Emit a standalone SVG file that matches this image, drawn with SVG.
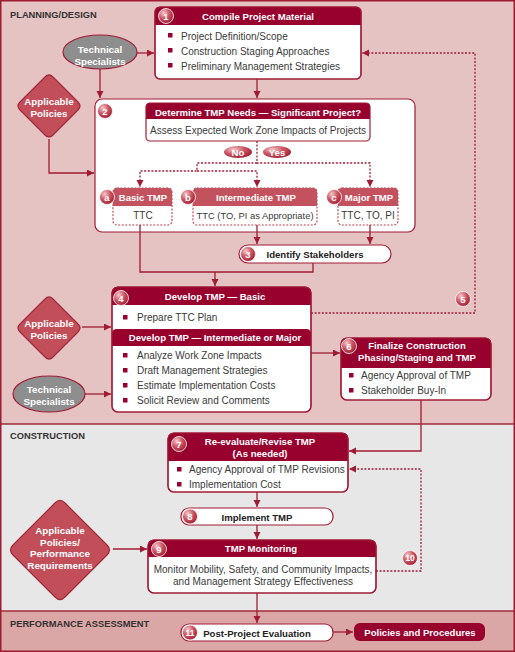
<svg xmlns="http://www.w3.org/2000/svg" width="515" height="652" viewBox="0 0 515 652">
<defs>
<radialGradient id="cg" cx="0.35" cy="0.3" r="0.75"><stop offset="0" stop-color="#f5c8cb"/><stop offset="0.5" stop-color="#cc5662"/><stop offset="1" stop-color="#a01c34"/></radialGradient>
<marker id="ar" markerUnits="userSpaceOnUse" markerWidth="8" markerHeight="8" refX="7" refY="3.5" orient="auto"><path d="M0,0 L7,3.5 L0,7 Z" fill="#a01c34"/></marker>
<style>
.b{font-family:"Liberation Sans",Arial,sans-serif;font-size:10px;fill:#3a3a3a}
.bc{font-family:"Liberation Sans",Arial,sans-serif;font-size:10px;fill:#3a3a3a;text-anchor:middle}
.h{font-family:"Liberation Sans",Arial,sans-serif;font-weight:bold;font-size:9.6px;fill:#fff;text-anchor:middle}
.hd{font-family:"Liberation Sans",Arial,sans-serif;font-weight:bold;font-size:9.6px;fill:#222;text-anchor:middle}
.sec{font-family:"Liberation Sans",Arial,sans-serif;font-weight:bold;font-size:9.3px;fill:#333}
.num{font-family:"Liberation Sans",Arial,sans-serif;font-weight:bold;font-size:9.5px;fill:#fff;text-anchor:middle}
.hdr{fill:#98002e}
.sub{fill:#c4525e}
.box{fill:#fff;stroke:#a01c34;stroke-width:1.2}
.ol{fill:none;stroke:#a01c34;stroke-width:1.2}
.dbox{fill:#fff;stroke:#b5404e;stroke-width:1.1;stroke-dasharray:2 1.5}
.nc{fill:url(#cg);stroke:#fff;stroke-width:0.8}
.bul{fill:#98002e}
.dia{fill:#c24e5a;stroke:#a3283a;stroke-width:1.2}
.ell{fill:#8e8e8e;stroke:#a01c34;stroke-width:1.2}
.ln{fill:none;stroke:#a01c34;stroke-width:1.3}
.dl{fill:none;stroke:#a01c34;stroke-width:1.3;stroke-dasharray:2 1.6}
</style>
</defs>

<!-- sections -->
<rect x="0" y="0" width="515" height="424" fill="#e6c3c3"/>
<rect x="0" y="424" width="515" height="187" fill="#e8e7e7"/>
<rect x="0" y="611" width="515" height="41" fill="#dba6a6"/>
<line x1="0" y1="424" x2="515" y2="424" stroke="#a52a3c" stroke-width="1.5"/>
<line x1="0" y1="611" x2="515" y2="611" stroke="#a52a3c" stroke-width="1.5"/>
<rect x="0.75" y="0.75" width="513.5" height="650.5" fill="none" stroke="#9e1b32" stroke-width="1.5"/>
<text class="sec" x="10" y="18">PLANNING/DESIGN</text>
<text class="sec" x="10" y="439">CONSTRUCTION</text>
<text class="sec" x="10" y="627">PERFORMANCE ASSESSMENT</text>

<!-- Technical Specialists 1 -->
<g id="ts1">
<ellipse class="ell" cx="100" cy="52" rx="37" ry="17"/>
<text class="h" x="100" y="53" style="font-size:9.8px">Technical</text>
<text class="h" x="100" y="65" style="font-size:9.8px">Specialists</text>
</g>

<!-- Applicable Policies 1 -->
<g id="ap1">
<path class="dia" d="M45,77 Q49,73 53,77 L78,102 Q82,106 78,110 L53,135 Q49,139 45,135 L20,110 Q16,106 20,102 Z"/>
<text class="h" x="49" y="105" style="font-size:9.8px">Applicable</text>
<text class="h" x="49" y="117" style="font-size:9.8px">Policies</text>
</g>

<!-- Box 1 -->
<g id="n1">
<rect class="box" x="155" y="7" width="206" height="72" rx="5"/>
<path class="hdr" d="M155,25 V12 Q155,7 160,7 H356 Q361,7 361,12 V25 Z"/>
<rect class="ol" x="155" y="7" width="206" height="72" rx="5"/>
<circle class="nc" cx="166" cy="16" r="7.5"/><text class="num" x="166" y="19.5">1</text>
<text class="h" x="258" y="19.5">Compile Project Material</text>
<rect class="bul" x="168" y="33" width="4.5" height="4.5"/><text class="b" x="181" y="39.5">Project Definition/Scope</text>
<rect class="bul" x="168" y="48" width="4.5" height="4.5"/><text class="b" x="181" y="54.5">Construction Staging Approaches</text>
<rect class="bul" x="168" y="63" width="4.5" height="4.5"/><text class="b" x="181" y="69.5">Preliminary Management Strategies</text>
</g>

<!-- Box 2 -->
<g id="n2">
<rect class="box" x="95" y="99" width="320" height="133" rx="7"/>
<circle class="nc" cx="105" cy="111" r="7.5"/><text class="num" x="105" y="114.5">2</text>
<path class="hdr" d="M146,119 V107 Q146,103 150,103 H366 Q370,103 370,107 V119 Z"/>
<rect class="ol" x="146" y="103" width="224" height="38" rx="4"/>
<text class="h" x="258" y="115.5">Determine TMP Needs — Significant Project?</text>
<text class="bc" x="258" y="134">Assess Expected Work Zone Impacts of Projects</text>
</g>

<g id="na">
<rect class="dbox" x="113" y="188" width="59" height="37" rx="4"/>
<path class="sub" d="M113,206 V192 Q113,188 117,188 H168 Q172,188 172,192 V206 Z"/>
<circle class="nc" cx="107" cy="197" r="7.5"/><text class="num" x="107" y="200.5">a</text>
<text class="h" x="143" y="200.5">Basic TMP</text>
<text class="bc" x="143" y="219">TTC</text>
</g>
<g id="nb">
<rect class="dbox" x="193" y="188" width="124" height="37" rx="4"/>
<path class="sub" d="M193,206 V192 Q193,188 197,188 H313 Q317,188 317,192 V206 Z"/>
<circle class="nc" cx="188" cy="197" r="7.5"/><text class="num" x="188" y="200.5">b</text>
<text class="h" x="256" y="200.5">Intermediate TMP</text>
<text class="bc" x="255" y="219" style="font-size:9.4px">TTC (TO, PI as Appropriate)</text>
</g>
<g id="nc">
<rect class="dbox" x="338" y="188" width="60" height="37" rx="4"/>
<path class="sub" d="M338,206 V192 Q338,188 342,188 H394 Q398,188 398,192 V206 Z"/>
<circle class="nc" cx="334" cy="197" r="7.5"/><text class="num" x="334" y="200.5">c</text>
<text class="h" x="369" y="200.5">Major TMP</text>
<text class="bc" x="368" y="219">TTC, TO, PI</text>
</g>

<!-- Box 3 -->
<g id="n3">
<rect class="box" x="239" y="245" width="152" height="18" rx="9"/>
<circle class="nc" cx="248" cy="254" r="7.5"/><text class="num" x="248" y="257.5">3</text>
<text class="hd" x="315" y="258">Identify Stakeholders</text>
</g>

<!-- Applicable Policies 2 -->
<g id="ap2">
<path class="dia" d="M45,299 Q49,295 53,299 L78,324 Q82,328 78,332 L53,357 Q49,361 45,357 L20,332 Q16,328 20,324 Z"/>
<text class="h" x="49" y="327" style="font-size:9.8px">Applicable</text>
<text class="h" x="49" y="339" style="font-size:9.8px">Policies</text>
</g>

<!-- Technical Specialists 2 -->
<g id="ts2">
<ellipse class="ell" cx="49" cy="394" rx="36" ry="18"/>
<text class="h" x="49" y="393" style="font-size:9.8px">Technical</text>
<text class="h" x="49" y="405" style="font-size:9.8px">Specialists</text>
</g>

<!-- Box 4 -->
<g id="n4">
<rect class="box" x="112" y="287" width="199" height="125" rx="6"/>
<path class="hdr" d="M112,305 V293 Q112,287 118,287 H305 Q311,287 311,293 V305 Z"/>
<path class="hdr" d="M112,346 V334 Q112,329 117,329 H306 Q311,329 311,334 V346 Z"/>
<rect class="ol" x="112" y="287" width="199" height="125" rx="6"/>
<circle class="nc" cx="121" cy="298" r="7.5"/><text class="num" x="121" y="301.5">4</text>
<text class="h" x="215" y="299.5">Develop TMP — Basic</text>
<rect class="bul" x="123" y="315" width="4.5" height="4.5"/><text class="b" x="137" y="321">Prepare TTC Plan</text>
<text class="h" x="215" y="341">Develop TMP — Intermediate or Major</text>
<rect class="bul" x="123" y="353" width="4.5" height="4.5"/><text class="b" x="137" y="359">Analyze Work Zone Impacts</text>
<rect class="bul" x="123" y="368" width="4.5" height="4.5"/><text class="b" x="137" y="374">Draft Management Strategies</text>
<rect class="bul" x="123" y="383" width="4.5" height="4.5"/><text class="b" x="137" y="389">Estimate Implementation Costs</text>
<rect class="bul" x="123" y="398" width="4.5" height="4.5"/><text class="b" x="137" y="404">Solicit Review and Comments</text>
</g>

<!-- Box 6 -->
<g id="n6">
<rect class="box" x="341" y="338" width="150" height="62" rx="6"/>
<path class="hdr" d="M341,368 V344 Q341,338 347,338 H485 Q491,338 491,344 V368 Z"/>
<rect class="ol" x="341" y="338" width="150" height="62" rx="6"/>
<circle class="nc" cx="349" cy="346" r="7.5"/><text class="num" x="349" y="349.5">6</text>
<text class="h" x="417" y="349">Finalize Construction</text>
<text class="h" x="417" y="361">Phasing/Staging and TMP</text>
<rect class="bul" x="349" y="373" width="4.5" height="4.5"/><text class="b" x="361" y="379">Agency Approval of TMP</text>
<rect class="bul" x="349" y="388" width="4.5" height="4.5"/><text class="b" x="361" y="394">Stakeholder Buy-In</text>
</g>

<!-- Box 7 -->
<g id="n7">
<rect class="box" x="168" y="433" width="180" height="59" rx="6"/>
<path class="hdr" d="M168,461 V439 Q168,433 174,433 H342 Q348,433 348,439 V461 Z"/>
<rect class="ol" x="168" y="433" width="180" height="59" rx="6"/>
<circle class="nc" cx="179" cy="444" r="7.5"/><text class="num" x="179" y="447.5">7</text>
<text class="h" x="260" y="444.5">Re-evaluate/Revise TMP</text>
<text class="h" x="260" y="456.5">(As needed)</text>
<rect class="bul" x="177" y="467" width="4.5" height="4.5"/><text class="b" x="189" y="473">Agency Approval of TMP Revisions</text>
<rect class="bul" x="177" y="482" width="4.5" height="4.5"/><text class="b" x="189" y="488">Implementation Cost</text>
</g>

<!-- Box 8 -->
<g id="n8">
<rect class="box" x="181" y="508" width="152" height="17" rx="8"/>
<circle class="nc" cx="190" cy="516.5" r="7.5"/><text class="num" x="190" y="520">8</text>
<text class="hd" x="257" y="520.5">Implement TMP</text>
</g>

<!-- Applicable Policies 3 -->
<g id="ap3">
<path class="dia" d="M55,503 Q60,498 65,503 L107,545 Q112,550 107,555 L65,597 Q60,602 55,597 L13,555 Q8,550 13,545 Z"/>
<text class="h" x="60" y="533.5" style="font-size:9.8px">Applicable</text>
<text class="h" x="60" y="545.5" style="font-size:9.8px">Policies/</text>
<text class="h" x="60" y="557" style="font-size:9.8px">Performance</text>
<text class="h" x="60" y="568.5" style="font-size:9.8px">Requirements</text>
</g>

<!-- Box 9 -->
<g id="n9">
<rect class="box" x="148" y="540" width="228" height="53" rx="6"/>
<path class="hdr" d="M148,557 V546 Q148,540 154,540 H370 Q376,540 376,546 V557 Z"/>
<rect class="ol" x="148" y="540" width="228" height="53" rx="6"/>
<circle class="nc" cx="159" cy="549" r="7.5"/><text class="num" x="159" y="552.5">9</text>
<text class="h" x="261" y="552">TMP Monitoring</text>
<text class="bc" x="263" y="573">Monitor Mobility, Safety, and Community Impacts,</text>
<text class="bc" x="263" y="584.5">and Management Strategy Effectiveness</text>
</g>

<!-- Box 11 -->
<g id="n11">
<rect class="box" x="181" y="624" width="152" height="17" rx="8"/>
<circle class="nc" cx="190" cy="632.5" r="7.5"/><text class="num" x="190" y="635.8" style="font-size:8.5px">11</text>
<text class="hd" x="257" y="636.5">Post-Project Evaluation</text>
</g>

<!-- Policies and Procedures -->
<g id="pp">
<rect x="354" y="623" width="131" height="18" rx="6" fill="#98002e"/>
<text class="h" x="420" y="636">Policies and Procedures</text>
</g>

<!-- connectors -->
<g id="connectors">
<path class="ln" d="M137,53 H154" marker-end="url(#ar)"/>
<path class="ln" d="M100,69 V98" marker-end="url(#ar)"/>
<path class="ln" d="M257,79 V98" marker-end="url(#ar)"/>
<path class="ln" d="M49,139 V173 H94" marker-end="url(#ar)"/>
<path class="ln" d="M140,225 V272 H313 V263"/>
<path class="ln" d="M215,272 V286" marker-end="url(#ar)"/>
<path class="ln" d="M257,225 V244" marker-end="url(#ar)"/>
<path class="ln" d="M370,225 V244" marker-end="url(#ar)"/>
<path class="ln" d="M82,327 H111" marker-end="url(#ar)"/>
<path class="ln" d="M85,394 H111" marker-end="url(#ar)"/>
<path class="ln" d="M311,353 H340" marker-end="url(#ar)"/>
<path class="ln" d="M421,400 V451 H349" marker-end="url(#ar)"/>
<path class="ln" d="M257,492 V507" marker-end="url(#ar)"/>
<path class="ln" d="M257,525 V539" marker-end="url(#ar)"/>
<path class="ln" d="M113,549 H147" marker-end="url(#ar)"/>
<path class="ln" d="M257,593 V623" marker-end="url(#ar)"/>
<path class="ln" d="M333,632 H353" marker-end="url(#ar)"/>
<path class="dl" d="M257,141 V163 H370 V187" marker-end="url(#ar)"/>
<path class="dl" d="M257,163 H197 V171 H140 V187" marker-end="url(#ar)"/>
<path class="dl" d="M197,171 H257 V187" marker-end="url(#ar)"/>
<path class="dl" d="M311,313 H475 V53 H362" marker-end="url(#ar)"/>
<path class="dl" d="M376,571 H421 V469 H349" marker-end="url(#ar)"/>
<g id="label5"><circle class="nc" cx="463" cy="299" r="7.5"/><text class="num" x="463" y="302.5">5</text></g>
<g id="label10"><circle class="nc" cx="410" cy="558" r="7.5"/><text class="num" x="410" y="561.3" style="font-size:8.5px">10</text></g>
<g id="no"><ellipse cx="238" cy="152" rx="14" ry="6" fill="url(#cg)"/><text class="h" x="238" y="155.5">No</text></g>
<g id="yes"><ellipse cx="277" cy="152" rx="14" ry="6" fill="url(#cg)"/><text class="h" x="277" y="155.5">Yes</text></g>
</g>
</svg>
